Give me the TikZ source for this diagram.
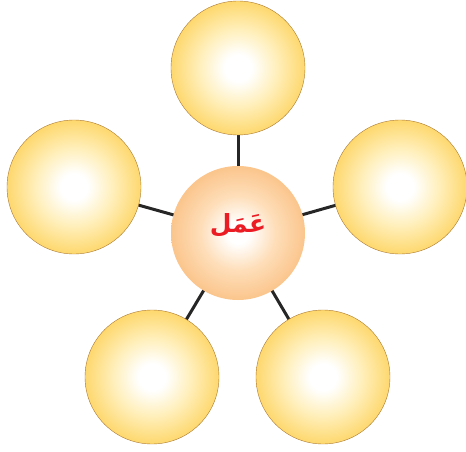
\documentclass[tikz,border=0pt]{standalone}
\usepackage{fontspec}
\newfontfamily\arabicfont[Script=Arabic]{DejaVu Sans}
\TeXXeTstate=1
\definecolor{ylwedge}{RGB}{170,120,50}
\definecolor{wordred}{RGB}{236,28,36}
\pgfdeclareradialshading{ylwshade}{\pgfpoint{0bp}{0bp}}{%
  color(0bp)=(white); color(5bp)=(white); color(14bp)=(rgb,255:red,255;green,240;blue,190);
  color(25bp)=(rgb,255:red,254;green,216;blue,110); color(50bp)=(rgb,255:red,254;green,216;blue,110)}
\pgfdeclareradialshading{peachshade}{\pgfpoint{0bp}{0bp}}{%
  color(0bp)=(white); color(4bp)=(white); color(14bp)=(rgb,255:red,254;green,222;blue,185);
  color(25bp)=(rgb,255:red,251;green,197;blue,140); color(50bp)=(rgb,255:red,251;green,197;blue,140)}
\tikzset{
  bubble/.style={circle, minimum size=134pt, inner sep=0pt, shading=ylwshade, draw=ylwedge, line width=0.4pt},
  hub/.style={circle, minimum size=134pt, inner sep=0pt, shading=peachshade},
  link/.style={line width=3pt, draw=black!85}
}
\begin{document}
\begin{tikzpicture}[x=1pt,y=-1pt]
\useasboundingbox (0,0) rectangle (466,452);
\coordinate (cc) at (238,233);
\coordinate (tc) at (238,68);
\coordinate (lc) at (74,187);
\coordinate (rc) at (400,187);
\coordinate (blc) at (152,377);
\coordinate (brc) at (323,377);
\draw[link] (cc) -- (tc);
\draw[link] (cc) -- (lc);
\draw[link] (cc) -- (rc);
\draw[link] (cc) -- (blc);
\draw[link] (cc) -- (brc);
\node[bubble] (t) at (tc) {};
\node[bubble] (l) at (lc) {};
\node[bubble] (r) at (rc) {};
\node[bubble] (bl) at (blc) {};
\node[bubble] (br) at (brc) {};
\node[hub] (c) at (cc) {};
\node[text=wordred, font=\arabicfont\bfseries\fontsize{25}{30}\selectfont] (w) at (238,225) {\beginR عَمَل\endR};
\end{tikzpicture}
\end{document}
